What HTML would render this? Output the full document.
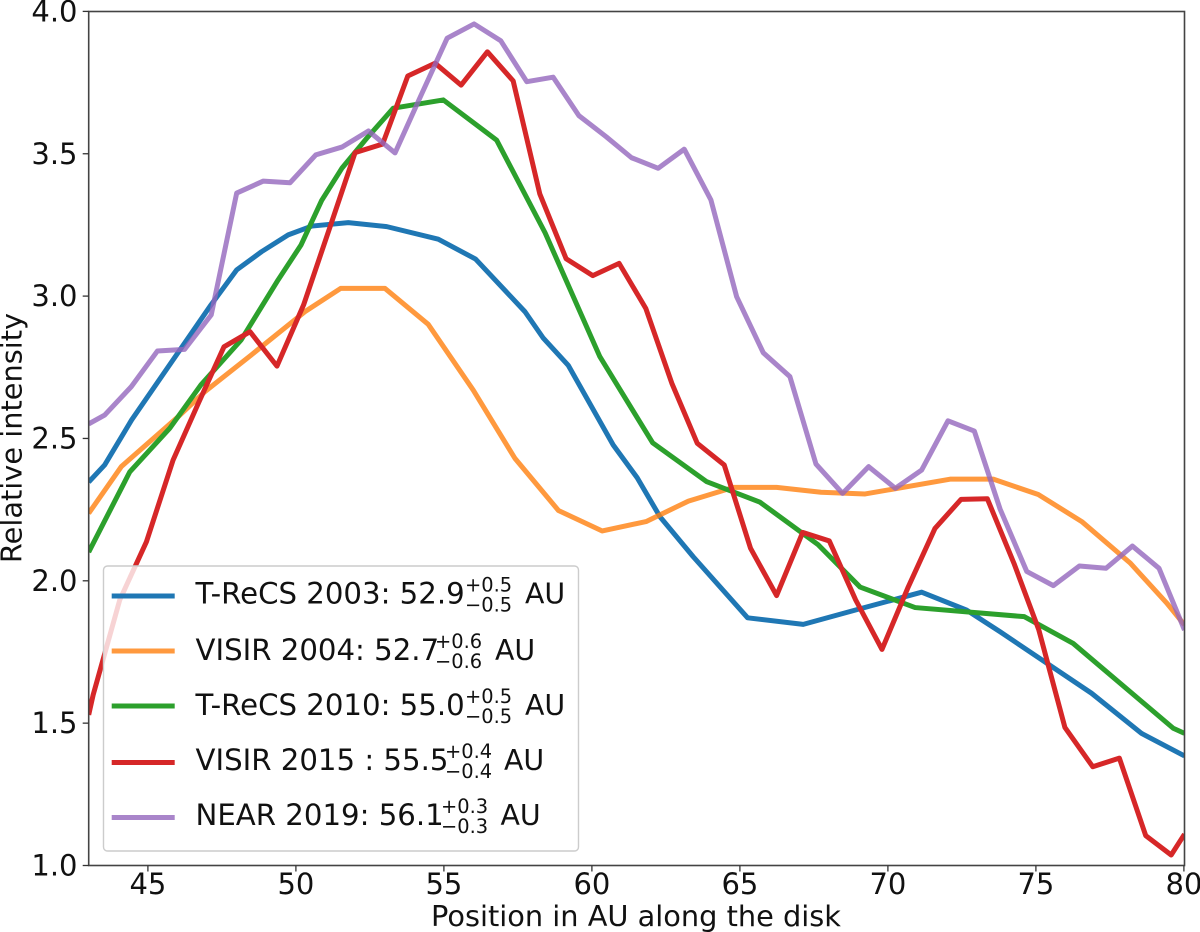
<!DOCTYPE html>
<html lang="en">
<head>
<meta charset="utf-8">
<title>Relative intensity along the disk</title>
<style>
html,body{margin:0;padding:0;background:#fff;}
svg{display:block;}
text{font-family:"DejaVu Sans","Liberation Sans",sans-serif;fill:#111;}
.tick{font-size:29px;}
.axis-label{font-size:28.8px;}
.leg{font-size:29.2px;}
.unit{font-size:28.4px;}
.scr{font-size:19.4px;}
</style>
</head>
<body>
<svg id="chart" xmlns="http://www.w3.org/2000/svg" width="1200" height="932" viewBox="0 0 1200 932">
  <defs>
    <clipPath id="plot-clip"><rect x="88.7" y="11.5" width="1095.8" height="854"/></clipPath>
  </defs>
  <rect x="0" y="0" width="1200" height="932" fill="#fff"/>
  <g id="series-layer" clip-path="url(#plot-clip)"></g>
  <rect x="88.7" y="11.5" width="1095.8" height="854" fill="none" stroke="#444" stroke-width="1.6"/>
  <g id="x-ticks"></g>
  <g id="y-ticks"></g>
  <text class="axis-label" x="636" y="926" text-anchor="middle">Position in AU along the disk</text>
  <text class="axis-label" transform="translate(21.5,438) rotate(-90)" text-anchor="middle">Relative intensity</text>

  <g>
    <rect x="103.5" y="566" width="475" height="285" rx="4" fill="#fff" fill-opacity="0.8" stroke="#ccc" stroke-width="1.4"/>
    <g>
      <line x1="111.7" x2="174.7" y1="596" y2="596" stroke="#1f77b4" stroke-width="5"/>
      <text class="leg" x="195.5" y="603.5">T-ReCS 2003: 52.9</text>
      <text class="scr" x="465" y="591.5">+0.5</text>
      <text class="scr" x="465" y="611.5">−0.5</text>
      <text class="unit" x="525" y="603.5">AU</text>
    </g>
    <g>
      <line x1="111.7" x2="174.7" y1="651" y2="651" stroke="#ff7f0e" stroke-opacity="0.8" stroke-width="5"/>
      <text class="leg" x="195.5" y="660">VISIR 2004: 52.7</text>
      <text class="scr" x="435" y="648">+0.6</text>
      <text class="scr" x="435" y="668">−0.6</text>
      <text class="unit" x="495" y="660">AU</text>
    </g>
    <g>
      <line x1="111.7" x2="174.7" y1="706" y2="706" stroke="#2ca02c" stroke-width="5"/>
      <text class="leg" x="195.5" y="715">T-ReCS 2010: 55.0</text>
      <text class="scr" x="465" y="703">+0.5</text>
      <text class="scr" x="465" y="723">−0.5</text>
      <text class="unit" x="525" y="715">AU</text>
    </g>
    <g>
      <line x1="111.7" x2="174.7" y1="762.5" y2="762.5" stroke="#d62728" stroke-width="5"/>
      <text class="leg" x="195.5" y="770">VISIR 2015 : 55.5</text>
      <text class="scr" x="445" y="758">+0.4</text>
      <text class="scr" x="445" y="778">−0.4</text>
      <text class="unit" x="504" y="770">AU</text>
    </g>
    <g>
      <line x1="111.7" x2="174.7" y1="817.5" y2="817.5" stroke="#9467bd" stroke-opacity="0.8" stroke-width="5"/>
      <text class="leg" x="195.5" y="825">NEAR 2019: 56.1</text>
      <text class="scr" x="441" y="813">+0.3</text>
      <text class="scr" x="441" y="833">−0.3</text>
      <text class="unit" x="500.5" y="825">AU</text>
    </g>
  </g>
</svg>
<script>
const xTickValues = [45, 50, 55, 60, 65, 70, 75, 80];
const xTickLabels = ["45", "50", "55", "60", "65", "70", "75", "80"];
const yTickValues = [1, 1.5, 2, 2.5, 3, 3.5, 4];
const yTickLabels = ["1.0", "1.5", "2.0", "2.5", "3.0", "3.5", "4.0"];

const blueX = [43.00,43.54,44.45,47.13,48.00,48.84,49.74,50.54,51.77,53.07,54.81,56.07,57.74,58.36,59.20,60.72,61.53,62.30,63.42,65.26,67.14,69.00,71.14,72.66,73.79,76.88,78.57,80.02];
const blueY = [2.347,2.407,2.565,2.969,3.092,3.156,3.215,3.246,3.258,3.244,3.200,3.130,2.945,2.852,2.757,2.477,2.362,2.225,2.085,1.870,1.847,1.900,1.960,1.897,1.821,1.605,1.464,1.385];

const orangeX = [43.00,44.10,46.02,46.92,48.49,50.30,51.51,53.01,54.47,55.99,57.40,58.87,60.35,61.83,63.26,64.78,66.24,67.74,69.23,72.10,73.56,75.08,76.55,78.18,79.42,80.02];
const orangeY = [2.237,2.401,2.576,2.664,2.793,2.945,3.027,3.027,2.901,2.670,2.430,2.247,2.175,2.208,2.280,2.328,2.328,2.311,2.305,2.357,2.357,2.303,2.208,2.063,1.922,1.845];

const greenX = [43.00,44.39,45.74,46.79,48.15,49.40,50.17,50.87,51.56,52.39,53.29,54.98,56.78,58.42,60.27,62.05,63.88,65.68,67.64,69.06,70.92,74.61,76.26,79.64,80.02];
const greenY = [2.101,2.383,2.536,2.688,2.846,3.057,3.179,3.336,3.450,3.554,3.660,3.689,3.548,3.222,2.787,2.485,2.348,2.276,2.127,1.978,1.906,1.874,1.780,1.482,1.464];

const redX = [43.00,43.15,44.05,44.95,45.85,46.71,47.57,48.45,49.36,50.26,51.14,52.00,52.93,53.78,54.70,55.58,56.47,57.34,58.24,59.13,60.03,60.92,61.82,62.70,63.56,64.47,65.36,66.24,67.12,68.02,68.91,69.80,70.69,71.59,72.47,73.36,74.26,75.10,75.98,76.92,77.82,78.71,79.57,80.02];
const redY = [1.529,1.599,1.933,2.137,2.424,2.625,2.822,2.875,2.754,2.969,3.239,3.504,3.534,3.773,3.818,3.741,3.858,3.756,3.359,3.131,3.072,3.115,2.957,2.694,2.483,2.407,2.114,1.948,2.170,2.140,1.933,1.759,1.979,2.184,2.286,2.288,2.061,1.827,1.485,1.347,1.377,1.105,1.037,1.110];

const purpleX = [43.00,43.54,44.44,45.32,46.24,47.14,48.00,48.90,49.80,50.67,51.57,52.45,53.35,54.23,55.11,56.02,56.92,57.80,58.69,59.56,60.48,61.34,62.24,63.12,64.02,64.89,65.79,66.69,67.57,68.47,69.35,70.25,71.14,72.03,72.92,73.79,74.69,75.59,76.47,77.37,78.26,79.16,80.02];
const purpleY = [2.551,2.582,2.682,2.807,2.813,2.934,3.362,3.404,3.398,3.496,3.524,3.580,3.503,3.706,3.906,3.956,3.897,3.753,3.769,3.634,3.560,3.486,3.449,3.516,3.338,2.998,2.801,2.717,2.410,2.307,2.401,2.325,2.389,2.562,2.526,2.252,2.033,1.983,2.052,2.044,2.122,2.044,1.827];

const SVG_NS = "http://www.w3.org/2000/svg";
const X_MIN = 43, X_MAX = 80, Y_MIN = 1, Y_MAX = 4;
const PLOT_LEFT = 88.7, PLOT_RIGHT = 1183.9, PLOT_TOP = 11.4, PLOT_BOTTOM = 865.5;

function xAxis(v) {
  return PLOT_LEFT + (v - X_MIN) / (X_MAX - X_MIN) * (PLOT_RIGHT - PLOT_LEFT);
}
function yAxis(v) {
  return PLOT_BOTTOM - (v - Y_MIN) / (Y_MAX - Y_MIN) * (PLOT_BOTTOM - PLOT_TOP);
}

const seriesLayer = document.getElementById("series-layer");
function drawSeries(name, xs, ys, color, opacity) {
  const line = document.createElementNS(SVG_NS, "polyline");
  
  
  const pts = xs.map(function (x, i) {
    return xAxis(x).toFixed(2) + "," + yAxis(ys[i]).toFixed(2);
  });
  line.setAttribute("points", pts.join(" "));
  line.setAttribute("fill", "none");
  line.setAttribute("stroke", color);
  line.setAttribute("stroke-opacity", opacity);
  line.setAttribute("stroke-width", "5");
  line.setAttribute("stroke-linejoin", "round");
  seriesLayer.appendChild(line);
}
drawSeries("line-trecs-2003", blueX, blueY, "#1f77b4", 1);
drawSeries("line-visir-2004", orangeX, orangeY, "#ff7f0e", 0.8);
drawSeries("line-trecs-2010", greenX, greenY, "#2ca02c", 1);
drawSeries("line-visir-2015", redX, redY, "#d62728", 1);
drawSeries("line-near-2019", purpleX, purpleY, "#9467bd", 0.8);

const xTickGroup = document.getElementById("x-ticks");
xTickValues.forEach(function (v, i) {
  const mark = document.createElementNS(SVG_NS, "line");
  
  
  mark.setAttribute("x1", xAxis(v));
  mark.setAttribute("x2", xAxis(v));
  mark.setAttribute("y1", PLOT_BOTTOM);
  mark.setAttribute("y2", PLOT_BOTTOM + 6);
  mark.setAttribute("stroke", "#333");
  mark.setAttribute("stroke-width", "1.3");
  xTickGroup.appendChild(mark);
  const label = document.createElementNS(SVG_NS, "text");
  
  
  label.setAttribute("class", "tick");
  label.setAttribute("x", xAxis(v));
  label.setAttribute("y", 894);
  label.setAttribute("text-anchor", "middle");
  label.textContent = xTickLabels[i];
  xTickGroup.appendChild(label);
});

const yTickGroup = document.getElementById("y-ticks");
yTickValues.forEach(function (v, i) {
  const mark = document.createElementNS(SVG_NS, "line");
  
  
  mark.setAttribute("x1", PLOT_LEFT - 6);
  mark.setAttribute("x2", PLOT_LEFT);
  mark.setAttribute("y1", yAxis(v));
  mark.setAttribute("y2", yAxis(v));
  mark.setAttribute("stroke", "#333");
  mark.setAttribute("stroke-width", "1.3");
  yTickGroup.appendChild(mark);
  const label = document.createElementNS(SVG_NS, "text");
  
  
  label.setAttribute("class", "tick");
  label.setAttribute("x", 77.5);
  label.setAttribute("y", yAxis(v) + 10);
  label.setAttribute("text-anchor", "end");
  label.textContent = yTickLabels[i];
  yTickGroup.appendChild(label);
});
</script>
</body>
</html>
